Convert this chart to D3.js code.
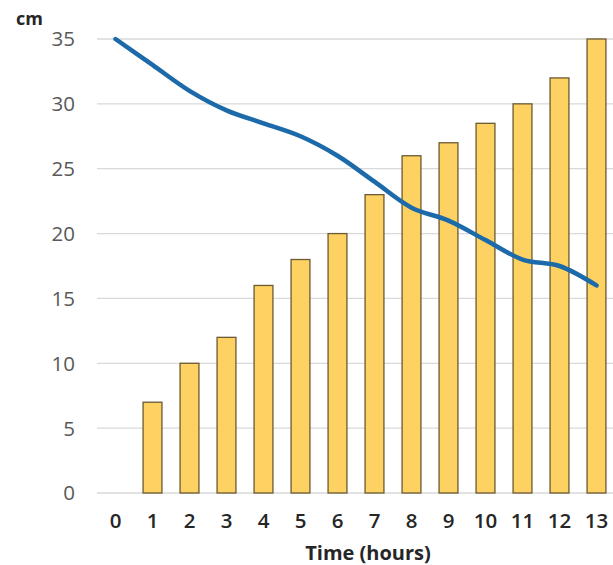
<!DOCTYPE html>
<html>
<head>
    <script src="https://d3js.org/d3.v7.min.js"></script>
    <style>
        body { margin: 0; background: #fff; }
        text { font-family: "Open Sans", sans-serif; }
    </style>
</head>
<body>
<script>
    // hours on the x axis
    var hours = [0, 1, 2, 3, 4, 5, 6, 7, 8, 9, 10, 11, 12, 13];
    // bar values (cm)
    var barValues = [0, 7, 10, 12, 16, 18, 20, 23, 26, 27, 28.5, 30, 32, 35];
    // line values (cm)
    var lineValues = [35, 33, 31, 29.5, 28.5, 27.5, 26, 24, 22, 21, 19.5, 18, 17.5, 16];
    var yTicks = [0, 5, 10, 15, 20, 25, 30, 35];

    var width = 613, height = 565;

    var svg = d3.select("body").append("svg")
        .attr("width", width)
        .attr("height", height);

    var x = d3.scaleBand()
        .domain(hours)
        .range([97, 615])
        .paddingInner(0.49)
        .paddingOuter(0.245);

    var y = d3.scaleLinear()
        .domain([0, 35])
        .range([493, 39]);

    // gridlines
    svg.append("g")
        .selectAll("line")
        .data(yTicks)
        .enter()
        .append("line")
        .attr("x1", 97)
        .attr("x2", width)
        .attr("y1", function (d) { return y(d); })
        .attr("y2", function (d) { return y(d); })
        .style("stroke", "#d9d9d9")
        .style("stroke-width", 1.3);

    // y tick labels
    svg.append("g")
        .selectAll("text")
        .data(yTicks)
        .enter()
        .append("text")
        .attr("x", 75)
        .attr("y", function (d) { return y(d); })
        .attr("dy", "0.36em")
        .attr("text-anchor", "end")
        .style("font-size", "20.5px")
        .style("fill", "#595959")
        .text(function (d) { return d; });

    // bars
    svg.append("g")
        .selectAll("rect")
        .data(hours.filter(function (h, i) { return barValues[i] > 0; }))
        .enter()
        .append("rect")
        .attr("x", function (d) { return x(d); })
        .attr("y", function (d) { return y(barValues[d]); })
        .attr("width", x.bandwidth())
        .attr("height", function (d) { return y(0) - y(barValues[d]); })
        .style("fill", "#fed262")
        .style("stroke", "#6b5a32")
        .style("stroke-width", 1.3);

    // line
    var line = d3.line()
        .x(function (d, i) { return x(hours[i]) + x.bandwidth() / 2; })
        .y(function (d) { return y(d); })
        .curve(d3.curveCatmullRom);

    svg.append("path")
        .datum(lineValues)
        .attr("d", line)
        .style("fill", "none")
        .style("stroke", "#1c6aa9")
        .style("stroke-width", 4.5)
        .style("stroke-linecap", "round");

    // x tick labels
    svg.append("g")
        .selectAll("text")
        .data(hours)
        .enter()
        .append("text")
        .attr("x", function (d) { return x(d) + x.bandwidth() / 2; })
        .attr("y", 528)
        .attr("text-anchor", "middle")
        .style("font-size", "20.5px")
        .style("font-weight", "600")
        .style("fill", "#262626")
        .text(function (d) { return d; });

    // axis titles
    svg.append("text")
        .attr("x", 368)
        .attr("y", 560)
        .attr("text-anchor", "middle")
        .style("font-size", "20px")
        .style("font-weight", "bold")
        .style("fill", "#262626")
        .text("Time (hours)");

    svg.append("text")
        .attr("x", 16)
        .attr("y", 25)
        .style("font-size", "18px")
        .style("font-weight", "bold")
        .style("fill", "#262626")
        .text("cm");
</script>
</body>
</html>
